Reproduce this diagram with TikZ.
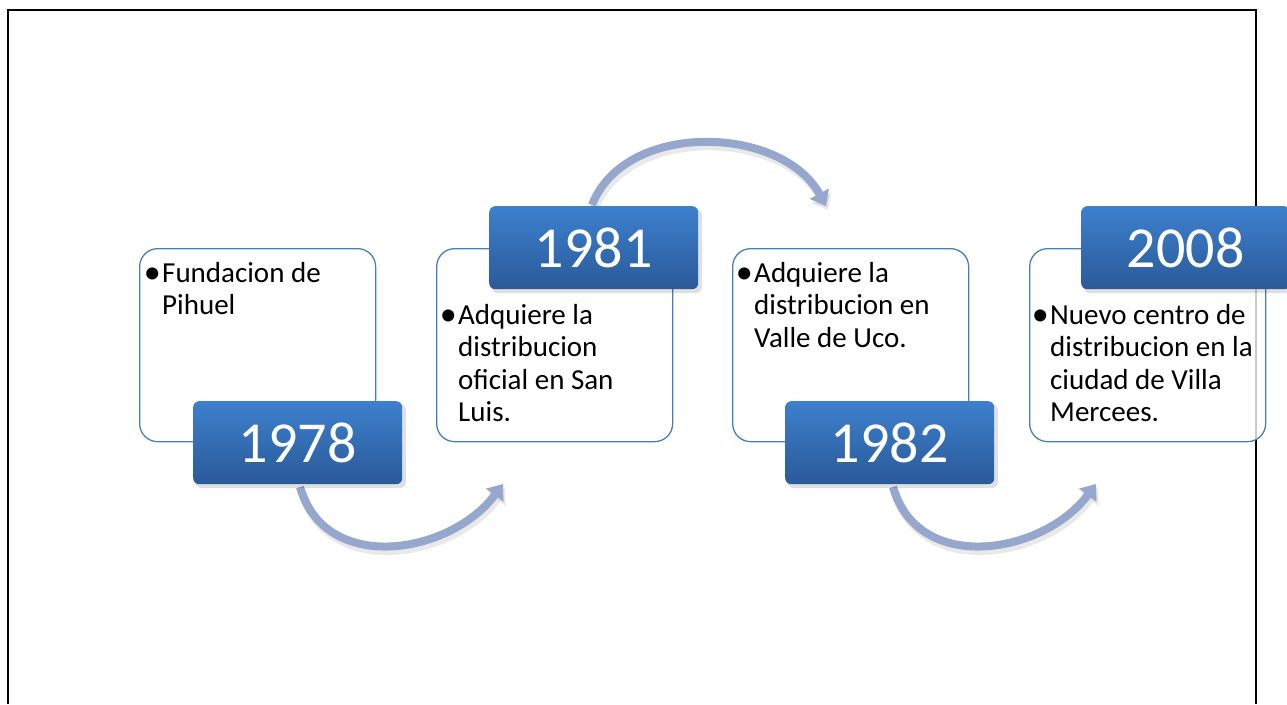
\documentclass[tikz,border=0pt]{standalone}
\usepackage{fontspec}
\setmainfont{Carlito}
\usetikzlibrary{arrows.meta}
\definecolor{boxline}{HTML}{4A7EBB}
\definecolor{bluetop}{HTML}{3D80CE}
\definecolor{bluebot}{HTML}{2A5A98}
\definecolor{arrowc}{HTML}{95A7CC}
\begin{document}
\begin{tikzpicture}[x=1pt,y=-1pt,
  card/.style={draw=boxline, line width=1.3pt, rounded corners=18pt, fill=white, fill opacity=0.8, minimum width=236, minimum height=193, anchor=north west, inner sep=0},
  yearbox/.style={rounded corners=6pt, top color=bluetop, bottom color=bluebot, draw=none, text=white, font=\fontsize{58}{60}\selectfont, minimum width=209, minimum height=83, anchor=north west, inner sep=0},
  yshadow/.style={fill=black, fill opacity=0.12, rounded corners=7pt, minimum width=211, minimum height=84, anchor=north west, inner sep=0},
  body/.style={anchor=base west, inner sep=0, font=\fontsize{29}{32.5}\selectfont},
  bul/.style={anchor=base east, inner sep=0, font=\fontsize{34}{36}\selectfont, xshift=-1pt, yshift=-1.5pt},
  arr/.style={draw=arrowc, line width=8pt, -{Triangle[width=21pt,length=14pt]}},
  arrshadow/.style={draw=black!25, opacity=0.35, line width=9pt, -{Triangle[width=22pt,length=14pt]}}]
\useasboundingbox (0,0) rectangle (1287,704);
% frame
\draw[line width=1.5pt] (8,704) -- (8,10) -- (1256,10) -- (1256,704);
% cards
\node[card] (c1) at (139,248) {};
\node[card] (c2) at (436,248) {};
\node[card] (c3) at (732,248) {};
\node[card] (c4) at (1029,248) {};
% texts
\node[body] (t1) at (162,282) {\vtop{\hbox{Fundacion de}\hbox{Pihuel}}};
\node[bul] (b1) at (t1.base west) {\textbullet};
\node[body] (t2) at (458,324) {\vtop{\hbox{Adquiere la}\hbox{distribucion}\hbox{oficial en San}\hbox{Luis.}}};
\node[bul] (b2) at (t2.base west) {\textbullet};
\node[body] (t3) at (754,282) {\vtop{\hbox{Adquiere la}\hbox{distribucion en}\hbox{Valle de Uco.}}};
\node[bul] (b3) at (t3.base west) {\textbullet};
\node[body] (t4) at (1050,324) {\vtop{\hbox{Nuevo centro de}\hbox{distribucion en la}\hbox{ciudad de Villa}\hbox{Mercees.}}};
\node[bul] (b4) at (t4.base west) {\textbullet};
% arrows
\coordinate (a1s) at (300,487);
\coordinate (a1e) at (503,484);
\coordinate (a2s) at (592,205);
\coordinate (a2e) at (826,206);
\coordinate (a3s) at (893,487);
\coordinate (a3e) at (1096,484);
\draw[arrshadow] ([shift={(2,4)}]a1s) .. controls (327,579) and (452,559) .. ([shift={(2,4)}]a1e);
\draw[arr] (a1s) .. controls (325,575) and (450,555) .. (a1e);
\draw[arrshadow] ([shift={(2,4)}]a2s) .. controls (627,124) and (784,129) .. ([shift={(2,4)}]a2e);
\draw[arr] (a2s) .. controls (625,120) and (782,125) .. (a2e);
\draw[arrshadow] ([shift={(2,4)}]a3s) .. controls (920,579) and (1045,559) .. ([shift={(2,4)}]a3e);
\draw[arr] (a3s) .. controls (918,575) and (1043,555) .. (a3e);
% year boxes
\node[yshadow] (s1) at (195,404) {};
\node[yearbox] (y1) at (193,401) {1978};
\node[yshadow] (s2) at (491,209) {};
\node[yearbox] (y2) at (489,206) {1981};
\node[yshadow] (s3) at (787,404) {};
\node[yearbox] (y3) at (785,401) {1982};
\node[yshadow] (s4) at (1083,209) {};
\node[yearbox] (y4) at (1081,206) {2008};
\end{tikzpicture}
\end{document}
